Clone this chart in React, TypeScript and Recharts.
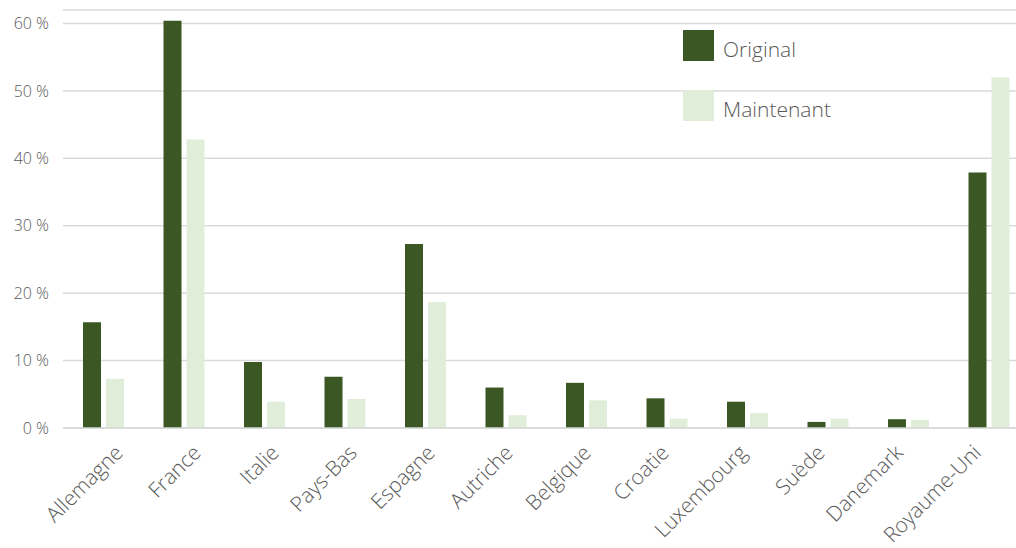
import React from 'react';
import { BarChart, Bar, XAxis, YAxis, CartesianGrid } from 'recharts';

const countries = [
  'Allemagne', 'France', 'Italie', 'Pays-Bas', 'Espagne', 'Autriche',
  'Belgique', 'Croatie', 'Luxembourg', 'Suède', 'Danemark', 'Royaume-Uni',
];
const original = [15.7, 60.4, 9.8, 7.6, 27.3, 6.0, 6.7, 4.4, 3.9, 0.9, 1.3, 37.9];
const maintenant = [7.3, 42.8, 3.9, 4.3, 18.7, 1.9, 4.1, 1.4, 2.2, 1.4, 1.2, 52.0];
const yTicks = [0, 10, 20, 30, 40, 50, 60];

const DARK = '#3a5724';
const LIGHT = '#e0eed9';
const TEXT = '#595959';
const FONT = '"Open Sans", sans-serif';

const data = countries.map((name, i) => ({
  name,
  original: original[i],
  maintenant: maintenant[i],
}));

// labels drift slightly left of the bars as you go right (like the source)
const CountryTick = (props: any) => {
  const { x, y, payload, index } = props;
  const shift = 21 - index * 2.5;
  return (
    <g transform={`translate(${x + shift},${y + 18})`}>
      <text
        transform="rotate(-45)"
        textAnchor="end"
        fill={TEXT}
        fontSize={21}
        fontFamily={FONT}
        fontWeight={300}
      >
        {payload.value}
      </text>
    </g>
  );
};

const legendItems = [
  { label: 'Original', color: DARK },
  { label: 'Maintenant', color: LIGHT },
];

export default function App() {
  return (
    <div style={{ position: 'absolute', left: 0, top: 0, width: 1016, height: 548, overflow: 'hidden', background: '#fff' }}>
      <BarChart
        width={1029}
        height={548}
        data={data}
        margin={{ top: 10, right: 0, bottom: 0, left: 0 }}
        barSize={18}
        barGap={5}
      >
        <CartesianGrid vertical={false} stroke="#d9d9d9" strokeWidth={1.5} />
        <XAxis
          dataKey="name"
          interval={0}
          height={120}
          tick={<CountryTick />}
          tickLine={false}
          axisLine={{ stroke: '#d9d9d9', strokeWidth: 1.5 }}
        />
        <YAxis
          domain={[0, 62]}
          ticks={yTicks}
          width={63}
          tickFormatter={(v: number) => `${v} %`}
          tick={{ fill: TEXT, fontSize: 16, fontFamily: FONT, fontWeight: 300 }}
          tickMargin={8}
          tickLine={false}
          axisLine={false}
        />
        <Bar dataKey="original" fill={DARK} isAnimationActive={false} />
        <Bar dataKey="maintenant" fill={LIGHT} isAnimationActive={false} />
      </BarChart>
      <div style={{ position: 'absolute', left: 683, top: 30, fontFamily: FONT, fontWeight: 300, fontSize: 21, color: TEXT }}>
        {legendItems.map((item, i) => (
          <div key={item.label} style={{ display: 'flex', alignItems: 'center', height: 31, marginBottom: i === 0 ? 29 : 0 }}>
            <div style={{ width: 31, height: 31, background: item.color, marginRight: 9 }} />
            <span style={{ marginTop: 6 }}>{item.label}</span>
          </div>
        ))}
      </div>
    </div>
  );
}
